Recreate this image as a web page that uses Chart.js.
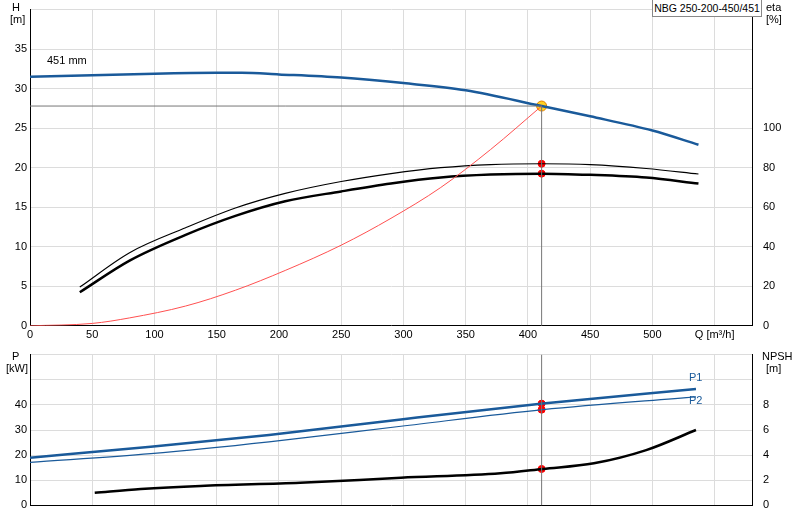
<!DOCTYPE html><html><head><meta charset="utf-8">
<script src="https://cdn.jsdelivr.net/npm/chart.js@4"></script>
<style>body{margin:0;width:800px;height:520px;position:relative;background:#fff;font-family:Arial,"Liberation Sans",sans-serif;overflow:hidden}
canvas{position:absolute;left:0}
.t{position:absolute;font-size:11px;color:#000;line-height:12px}
</style></head><body>
<canvas id="c1" width="800" height="345" style="top:0"></canvas>
<canvas id="c2" width="800" height="170" style="top:345px"></canvas>
<div class="t" style="left:12px;top:1px">H</div><div class="t" style="left:10px;top:13px">[m]</div>
<div class="t" style="left:766px;top:1px">eta</div><div class="t" style="left:766px;top:13px">[%]</div>
<div class="t" style="left:12px;top:350px">P</div><div class="t" style="left:6px;top:362px">[kW]</div>
<div class="t" style="left:762px;top:350px">NPSH</div><div class="t" style="left:766px;top:362px">[m]</div>
<div class="t" style="left:47px;top:54px">451 mm</div>
<div class="t" style="left:689px;top:371px;color:#1a5a9a">P1</div>
<div class="t" style="left:689px;top:394px;color:#1a5a9a">P2</div>
<div class="t" style="left:652px;top:0px;width:108px;height:16px;border:1px solid #888;border-top:none;line-height:16px;text-align:center;background:#fff;white-space:nowrap;font-size:10.5px">NBG 250-200-450/451</div>
<script>
const qH=[0,50,100,150,170,200,250,300,350,411,450,500,537];
const H=[31.5,31.7,31.9,32,32,31.8,31.4,30.7,29.8,27.8,26.5,24.7,22.9];
const qE=[40,80,125,165,205,250,290,330,370,411,450,495,537];
const etaThick=[17,33,46,55.6,63,68,72,75,76.5,77,76.4,75,72];
const etaThin=[19.6,37,49.6,59.6,67,73,77,80,81.6,82,81.6,79.6,76.8];
const qS=[0,50,80,125,165,205,250,290,330,370,411];
const Hsys=[0,0.3,1.0,2.5,4.5,7,10.2,13.6,17.5,22.3,27.8];
const qP=[0,97,192,298,412,535];
const P1=[19,23.3,28,34.2,40.5,46.3];
const P2=[17.1,20.6,25.3,31.5,38.1,43.2];
const qN=[52,89,137,217,298,378,412,453,495,535];
const NPSH=[1.0,1.3,1.55,1.8,2.2,2.55,2.9,3.35,4.4,6.0];
const duty={q:411,h:27.8,etaThin:82,etaThick:77,p1:40.5,p2:38.1,npsh:2.9};
const xy=(xs,ys)=>xs.map((x,i)=>({x,y:ys[i]}));
const blue='#1a5a9a',grid='#dcdcdc';
const font={family:'Arial, Liberation Sans',size:11};
const fitL=s=>{s.width=30},fitR=s=>{s.width=48};
const L=(o)=>Object.assign({showLine:true,pointRadius:0,cubicInterpolationMode:'monotone'},o);
Chart.defaults.animation=false;
new Chart(document.getElementById('c1'),{type:'scatter',data:{datasets:[
{data:[{x:0,y:duty.h},{x:duty.q,y:duty.h}],showLine:true,borderColor:'#777',borderWidth:1,pointRadius:0},
{data:[{x:duty.q,y:0},{x:duty.q,y:duty.h}],showLine:true,borderColor:'#777',borderWidth:1,pointRadius:0},
L({data:xy(qS,Hsys),borderColor:'#ff5050',borderWidth:1}),
L({data:xy(qE,etaThin),yAxisID:'y2',borderColor:'#000',borderWidth:1.2}),
L({data:xy(qE,etaThick),yAxisID:'y2',borderColor:'#000',borderWidth:2.5}),
L({data:xy(qH,H),borderColor:blue,borderWidth:2.5}),
{data:[{x:duty.q,y:duty.etaThin},{x:duty.q,y:duty.etaThick}],yAxisID:'y2',pointRadius:3.5,pointBackgroundColor:'#f00',pointBorderColor:'#f00'},
{data:[{x:duty.q,y:duty.h}],pointRadius:5,pointBackgroundColor:'#ffd020',pointBorderColor:'#e08000'}
]},options:{responsive:false,layout:{padding:{top:-8,right:0,bottom:0,left:0}},plugins:{legend:{display:false},tooltip:{enabled:false}},
scales:{x:{type:'linear',min:0,max:580,ticks:{stepSize:50,font,color:'#000',callback:v=>v==550?'Q [m³/h]':(v>550?'':v)},grid:{color:grid,drawTicks:false},border:{color:'#000'}},
y:{min:0,max:40,afterFit:fitL,ticks:{stepSize:5,font,color:'#000',callback:v=>v==40?'':v},grid:{color:grid,drawTicks:false},border:{color:'#000'}},
y2:{position:'right',min:0,max:160,afterFit:fitR,ticks:{stepSize:20,font,color:'#000',callback:v=>v>100?'':v},grid:{display:false},border:{color:'#000'}}}}});
new Chart(document.getElementById('c2'),{type:'scatter',data:{datasets:[
{data:[{x:duty.q,y:0},{x:duty.q,y:60}],showLine:true,borderColor:'#777',borderWidth:1,pointRadius:0},
L({data:xy(qP,P2),borderColor:blue,borderWidth:1.2}),
L({data:xy(qP,P1),borderColor:blue,borderWidth:2.5}),
L({data:xy(qN,NPSH),yAxisID:'y2',borderColor:'#000',borderWidth:2.5}),
{data:[{x:duty.q,y:duty.p1},{x:duty.q,y:duty.p2}],pointRadius:3.5,pointBackgroundColor:'#f00',pointBorderColor:'#f00'},
{data:[{x:duty.q,y:duty.npsh}],yAxisID:'y2',pointRadius:3.5,pointBackgroundColor:'#f00',pointBorderColor:'#f00'}
]},options:{responsive:false,layout:{padding:{top:5,bottom:8}},plugins:{legend:{display:false},tooltip:{enabled:false}},
scales:{x:{type:'linear',min:0,max:580,ticks:{stepSize:50,display:false},grid:{color:grid,drawTicks:false},border:{color:'#000'}},
y:{min:0,max:60,afterFit:fitL,ticks:{stepSize:10,font,color:'#000',callback:v=>v>40?'':v},grid:{color:grid,drawTicks:false},border:{color:'#000'}},
y2:{position:'right',min:0,max:12,afterFit:fitR,ticks:{stepSize:2,font,color:'#000',callback:v=>v>8?'':v},grid:{display:false},border:{color:'#000'}}}}});
</script></body></html>
